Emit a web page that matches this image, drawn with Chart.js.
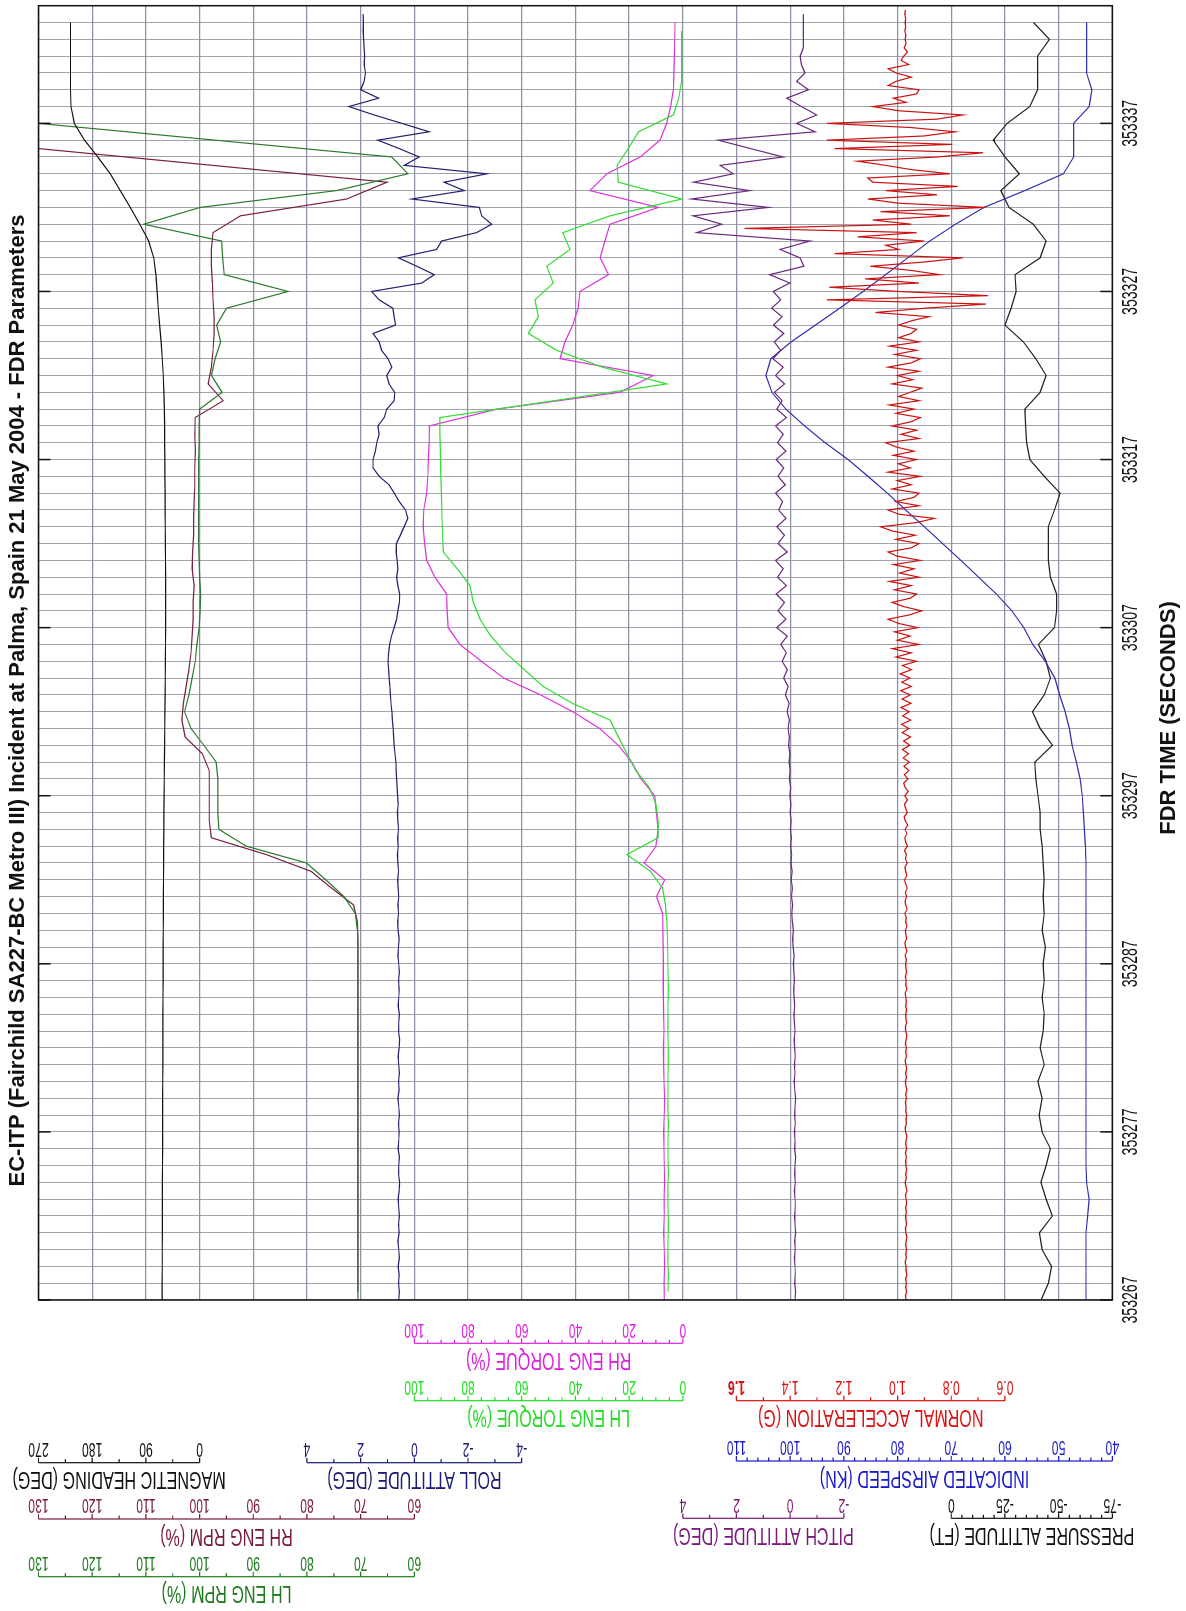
<!DOCTYPE html>
<html>
<head>
<meta charset="utf-8">
<title>EC-ITP FDR Parameters</title>
<script src="https://cdn.jsdelivr.net/npm/chart.js@4.4.1/dist/chart.umd.min.js"></script>
<style>
  html, body { margin: 0; padding: 0; background: #fff; overflow: hidden; }
  /* the chart is laid out landscape and turned a quarter turn, like the printed page */
  #page {
    position: absolute; left: 0; top: 0;
    width: 1611px; height: 1186px;
    transform-origin: 0 0;
    transform: translate(0, 1611px) rotate(-90deg);
  }
</style>
</head>
<body>
<div id="page"><canvas id="fdr" width="1611" height="1186"></canvas></div>
<script>
// FDR time axis
const T0 = 353267;
const T1 = 353344;
const timeLabels = [353267, 353277, 353287, 353297, 353307, 353317, 353327, 353337];

// 1 Hz, from T0 (deg)
const magHeading = [
  62.8, 62.8, 62.6, 62.6, 62.4, 62.4, 62.3, 62.2, 62.1, 62.0,
  61.9, 61.8, 61.8, 61.7, 61.6, 61.5, 61.5, 61.4, 61.3, 61.2,
  61.1, 61.0, 60.9, 60.8, 60.7, 60.5, 60.3, 60.1, 60.0, 59.8,
  59.5, 59.2, 58.9, 58.6, 58.4, 58.1, 57.8, 57.5, 57.3, 57.1,
  57.0, 57.0, 57.0, 57.0, 57.1, 57.3, 57.5, 57.7, 57.9, 58.1,
  58.3, 58.5, 58.6, 59.0, 59.8, 60.9, 62.6, 64.6, 67.0, 69.3,
  71.2, 73.1, 76.8, 85.3, 100.2, 116.2, 133.0, 149.9, 170.5, 193.0,
  209.9, 215.5, 216.4, 216.4, 216.4, 216.4, 216.4
];

// 1 Hz, from T0 (%), 130 = pinned at the top of the scale
const lhEngRpm = [
  70.5, 70.5, 70.5, 70.5, 70.5, 70.5, 70.5, 70.5, 70.5, 70.5,
  70.5, 70.5, 70.5, 70.5, 70.5, 70.5, 70.5, 70.5, 70.5, 70.5,
  70.5, 70.5, 70.6, 71.0, 73.1, 76.5, 80.1, 91.3, 96.4, 96.6,
  96.6, 96.6, 96.9, 99.2, 101.6, 102.8, 102.0, 101.4, 100.8, 100.5,
  100.1, 99.9, 99.8, 100.0, 100.1, 100.2, 100.2, 100.2, 100.2, 100.2,
  100.2, 100.1, 100.1, 100.0, 95.8, 97.8, 97.1, 96.1, 96.8, 95.0,
  83.5, 95.4, 95.7, 95.9, 110.4, 99.9, 74.5, 61.2, 64.2, null,
  130, 130, 130, 130, 130, 130, 130
];

// 1 Hz, from T0 + 0.5 (%)
const rhEngRpm = [
  70.5, 70.5, 70.5, 70.5, 70.5, 70.5, 70.5, 70.5, 70.5, 70.5,
  70.5, 70.5, 70.5, 70.5, 70.5, 70.5, 70.5, 70.5, 70.5, 70.5,
  70.5, 70.5, 70.6, 71.3, 75.4, 79.2, 87.6, 97.8, 98.2, 98.2,
  98.2, 98.2, 99.5, 102.7, 103.3, 103.0, 102.5, 102.0, 101.6, 101.4,
  101.2, 101.2, 101.0, 101.4, 101.3, 101.1, 101.1, 101.0, 100.9, 100.9,
  100.8, 100.9, 100.8, 95.6, 98.4, 97.8, 97.5, 97.3, 97.3, 97.5,
  97.6, 97.8, 97.8, 97.5, 92.4, 72.6, 65.1, null, 130, 130,
  130, 130, 130, 130, 130, 130
];

// 2 Hz, from T0 (deg)
const rollAtt = [
  0.58, 0.56, 0.59, 0.57, 0.60, 0.56, 0.58, 0.61, 0.57, 0.59,
  0.56, 0.58, 0.60, 0.57, 0.55, 0.59, 0.58, 0.56, 0.60, 0.58,
  0.57, 0.59, 0.56, 0.58, 0.61, 0.57, 0.59, 0.56, 0.58, 0.60,
  0.57, 0.55, 0.59, 0.58, 0.56, 0.60, 0.58, 0.57, 0.59, 0.56,
  0.58, 0.61, 0.59, 0.57, 0.60, 0.62, 0.59, 0.61, 0.58, 0.60,
  0.62, 0.59, 0.61, 0.63, 0.60, 0.62, 0.59, 0.61, 0.63, 0.60,
  0.62, 0.64, 0.66, 0.68, 0.69, 0.72, 0.75, 0.77, 0.79, 0.82,
  0.84, 0.87, 0.89, 0.91, 0.94, 0.96, 0.98, 0.96, 0.92, 0.85,
  0.75, 0.66, 0.61, 0.56, 0.55, 0.61, 0.66, 0.61, 0.64, 0.68,
  0.67, 0.52, 0.38, 0.24, 0.33, 0.56, 0.75, 0.94, 1.31, 1.54,
  1.54, 1.45, 1.40, 1.31, 1.36, 1.12, 1.03, 0.75, 0.73, 0.94,
  1.03, 0.84, 0.98, 1.22, 1.31, 1.54, 0.70, 0.75, 0.80, 1.31,
  1.59, -0.28, -0.74, -0.09, 0.59, -0.83, -1.02, -2.32, -2.88, -2.51,
  -2.42, 0.10, -1.86, -1.11, -2.70, 0.38, -0.18, 0.56, 1.36, -0.55,
  0.47, 1.50, 2.44, 1.33, 2.00, 1.87, 1.82, 1.87, 1.85, 1.87,
  1.89, 1.91, 1.90, 1.91
];

// 1 Hz, from T0 + 0.5 (%)
const lhEngTorque = [
  5.5, 5.4, 5.6, 5.5, 5.4, 5.5, 5.6, 5.4, 5.5, 5.5,
  5.4, 5.6, 5.5, 5.5, 5.4, 5.5, 5.6, 5.5, 5.4, 5.5,
  5.6, 5.7, 5.9, 6.5, 7.5, 12.0, 20.8, 9.2, 9.2, 10.0,
  12.5, 17.5, 20.8, 24.0, 27.1, 41.2, 52.0, 59.0, 66.0, 71.5,
  75.5, 78.0, 79.3, 84.0, 89.2, 89.5, 89.7, 89.8, 90.0, 90.2,
  90.3, 90.5, 90.5, 48.0, 6.0, 30.0, 47.0, 57.5, 53.8, 55.1,
  48.2, 50.7, 42.0, 44.7, 27.1, 0.4, 24.0, 24.5, 20.3, 16.5,
  3.5, 1.5, 0.4, 0.4, 0.4, 0.4
];

// 1 Hz, from T0 (%)
const rhEngTorque = [
  6.9, 7.0, 6.8, 6.9, 7.1, 6.9, 7.0, 6.8, 6.9, 7.0,
  7.1, 6.9, 6.8, 7.0, 7.1, 7.2, 7.0, 7.1, 7.2, 7.3,
  7.2, 7.3, 7.4, 7.5, 9.8, 6.7, 14.4, 10.0, 9.2, 9.8,
  10.5, 15.6, 19.0, 24.0, 31.0, 41.0, 53.0, 66.7, 75.0, 83.0,
  87.4, 87.8, 88.0, 92.3, 95.4, 96.2, 96.7, 96.5, 95.4, 95.0,
  94.8, 94.5, 94.4, 69.3, 23.4, 11.0, 45.7, 43.9, 41.0, 39.0,
  38.3, 27.7, 30.8, 29.0, 27.1, 9.1, 34.6, 28.3, 15.9, 8.5,
  6.0, 4.5, 3.5, 3.3, 3.1, 3.0, 2.9
];

// 2 Hz, from T0 (deg)
const pitchAtt = [
  -0.18, -0.20, -0.17, -0.19, -0.18, -0.16, -0.19, -0.17, -0.20, -0.18,
  -0.17, -0.19, -0.18, -0.16, -0.19, -0.17, -0.18, -0.20, -0.17, -0.18,
  -0.16, -0.19, -0.17, -0.18, -0.20, -0.17, -0.15, -0.18, -0.16, -0.19,
  -0.17, -0.15, -0.18, -0.16, -0.14, -0.17, -0.15, -0.13, -0.16, -0.14,
  -0.12, -0.15, -0.11, -0.09, -0.12, -0.08, -0.06, -0.09, -0.05, -0.08,
  -0.04, -0.07, -0.03, -0.06, -0.02, -0.05, -0.01, -0.04, 0.00, -0.03,
  0.01, -0.02, 0.03, 0.00, 0.04, 0.01, 0.06, 0.03, 0.08, 0.03,
  0.11, 0.04, 0.18, 0.08, 0.24, 0.11, 0.30, 0.14, 0.35, 0.11,
  0.50, 0.16, 0.45, 0.21, 0.52, 0.14, 0.47, 0.26, 0.54, 0.11,
  0.45, 0.21, 0.50, 0.16, 0.43, 0.28, 0.54, 0.18, 0.45, 0.24,
  0.52, 0.16, 0.47, 0.26, 0.54, 0.14, 0.50, 0.30, 0.59, 0.21,
  0.54, 0.26, 0.64, 0.35, 0.59, 0.24, 0.62, 0.30, 0.69, 0.35,
  0.63, 0.01, 0.76, -0.51, -0.37, 0.38, -0.74, 3.48, 2.55, 3.62,
  0.81, 3.67, 1.50, 3.60, 2.12, 2.61, 0.26, 1.47, 2.68, -0.93,
  -0.24, -0.99, -0.42, 0.13, -0.68, -0.24, -0.55, -0.42, -0.37, -0.49,
  -0.49, -0.49, -0.49, -0.49
];

// 4 Hz, from T0 (g)
const normalAccel = [
  0.968, 0.971, 0.966, 0.970, 0.967, 0.970, 0.965, 0.969,
  0.968, 0.972, 0.967, 0.970, 0.966, 0.970, 0.968, 0.965,
  0.969, 0.971, 0.966, 0.969, 0.970, 0.967, 0.970, 0.966,
  0.968, 0.971, 0.965, 0.969, 0.972, 0.967, 0.970, 0.966,
  0.969, 0.970, 0.967, 0.971, 0.966, 0.970, 0.968, 0.965,
  0.970, 0.972, 0.967, 0.969, 0.966, 0.970, 0.968, 0.971,
  0.967, 0.970, 0.965, 0.969, 0.971, 0.967, 0.970, 0.966,
  0.969, 0.972, 0.966, 0.970, 0.967, 0.971, 0.968, 0.965,
  0.970, 0.971, 0.966, 0.969, 0.970, 0.966, 0.970, 0.967,
  0.969, 0.972, 0.965, 0.970, 0.968, 0.971, 0.966, 0.969,
  0.970, 0.967, 0.972, 0.965, 0.970, 0.973, 0.966, 0.969,
  0.971, 0.965, 0.970, 0.967, 0.973, 0.964, 0.970, 0.972,
  0.966, 0.971, 0.964, 0.970, 0.974, 0.965, 0.970, 0.973,
  0.964, 0.971, 0.967, 0.974, 0.963, 0.970, 0.973, 0.965,
  0.972, 0.962, 0.971, 0.975, 0.964, 0.970, 0.974, 0.963,
  0.973, 0.960, 0.972, 0.977, 0.961, 0.975, 0.958, 0.976,
  0.956, 0.979, 0.959, 0.982, 0.954, 0.977, 0.952, 0.983,
  0.958, 0.985, 0.951, 0.981, 0.956, 0.987, 0.950, 0.983,
  0.953, 0.988, 0.949, 0.984, 0.954, 0.990, 0.948, 0.982,
  0.929, 1.006, 0.949, 1.020, 0.920, 1.001, 0.953, 1.011,
  0.925, 0.996, 1.035, 0.958, 0.910, 0.977, 1.020, 0.953,
  0.929, 1.011, 0.949, 1.030, 0.920, 0.992, 0.939, 1.015,
  0.915, 1.001, 1.035, 0.949, 0.920, 1.006, 0.934, 1.020,
  1.063, 0.929, 0.863, 0.996, 1.035, 0.920, 1.006, 0.939,
  0.920, 1.020, 0.949, 1.001, 0.915, 1.035, 0.953, 0.996,
  0.929, 1.015, 0.939, 1.006, 1.044, 0.920, 0.987, 0.929,
  1.020, 0.949, 0.915, 1.006, 0.939, 1.030, 0.920, 0.996,
  0.953, 0.910, 1.020, 0.944, 1.001, 0.920, 1.035, 0.949,
  0.915, 1.011, 0.929, 1.030, 0.920, 0.996, 0.949, 0.929,
  0.996, 0.949, 0.882, 1.082, 0.901, 0.671, 1.264, 0.662,
  0.996, 1.254, 0.920, 1.121, 0.843, 0.949, 1.101, 0.901,
  0.757, 1.235, 0.996, 1.044, 0.901, 1.149, 0.929, 1.570,
  0.949, 1.092, 0.805, 1.063, 0.671, 0.996, 1.111, 0.853,
  1.044, 0.776, 1.092, 1.111, 0.805, 0.949, 1.044, 1.149,
  0.853, 0.681, 1.235, 0.796, 1.264, 0.901, 0.786, 0.949,
  1.264, 0.853, 0.757, 0.996, 1.092, 0.968, 1.015, 0.929,
  0.920, 1.035, 1.006, 0.949, 1.006, 1.035, 0.958, 0.987,
  0.977, 0.963, 0.975, 0.968, 0.972, 0.969, 0.973, 0.970,
  0.972, 0.970, 0.973, 0.971
];

// 1 Hz, from T0 (kn)
const indAirspeed = [
  44.9, 44.9, 44.9, 44.9, 44.9, 44.6, 44.3, 44.8, 44.9, 44.9,
  44.9, 44.9, 44.9, 44.9, 44.9, 44.9, 44.9, 44.9, 44.9, 44.9,
  44.9, 44.9, 44.9, 44.9, 44.9, 44.9, 44.9, 45.0, 45.2, 45.4,
  45.6, 46.0, 46.7, 47.5, 48.0, 48.8, 49.8, 50.7, 52.5, 54.8,
  56.5, 58.7, 61.6, 64.9, 68.2, 71.6, 75.0, 78.5, 81.9, 85.5,
  89.2, 93.5, 97.3, 100.8, 103.4, 104.5, 103.6, 99.8, 95.3, 90.8,
  86.4, 82.2, 78.1, 74.0, 69.2, 63.9, 56.3, 49.1, 47.2, 47.2,
  47.2, 44.3, 43.8, 44.8, 44.8, 44.8, 44.8
];

// 1 Hz, from T0 (ft)
const pressAlt = [
  -41.8, -45.2, -46.7, -42.3, -41.1, -47.1, -44.2, -41.8, -44.2, -46.2,
  -42.3, -40.9, -42.3, -40.4, -43.3, -41.4, -42.8, -43.3, -42.3, -43.3,
  -42.8, -43.8, -42.3, -43.3, -42.8, -43.3, -42.8, -42.3, -41.4, -41.4,
  -40.4, -39.4, -38.9, -47.1, -41.4, -37.8, -43.3, -46.2, -44.2, -40.6,
  -48.1, -49.1, -49.1, -46.2, -45.2, -45.2, -45.2, -48.1, -50.7, -43.3,
  -36.6, -35.1, -34.6, -34.3, -41.4, -44.2, -39.4, -33.6, -25.0, -27.9,
  -30.2, -29.7, -41.4, -44.2, -38.2, -26.9, -23.1, -31.7, -25.0, -19.6,
  -26.0, -36.6, -40.2, -40.2, -40.2, -45.7, -38.3
];

// the plot has 20 grid divisions across; each parameter scale is
// given by its value on the upper edge and its units per division
const DIVS = 20;
const FONT = '"Liberation Sans", Arial, sans-serif';

function gridAxis(topValue, perDiv) {
  return { type: 'linear', display: false, min: topValue - DIVS * perDiv, max: topValue };
}

function pts(values, start, step) {
  return values.map((v, i) => ({ x: T0 + start + i * step, y: v }));
}

function line(label, values, start, step, axis, color) {
  return {
    label: label,
    data: pts(values, start, step),
    yAxisID: axis,
    borderColor: color,
    borderWidth: 1.2,
    pointRadius: 0,
    tension: 0,
    spanGaps: true
  };
}

// scale keys drawn beside the plot
const legendScales = [
  { axis: 'yRpm', title: 'LH ENG RPM (%)', color: '#1f7a1f', lineX: 34.3, from: 60, to: 130, minor: 5, major: 10, dec: 0 },
  { axis: 'yRpm', title: 'RH ENG RPM (%)', color: '#7a1a3c', lineX: 92, from: 60, to: 130, minor: 5, major: 10, dec: 0 },
  { axis: 'yHdg', title: 'MAGNETIC HEADING (DEG)', color: '#111111', lineX: 148.3, from: 0, to: 270, minor: 45, major: 90, dec: 0 },
  { axis: 'yRoll', title: 'ROLL ATTITUDE (DEG)', color: '#1c1c78', lineX: 148.3, from: -4, to: 4, minor: 1, major: 2, dec: 0 },
  { axis: 'yTq', title: 'LH ENG TORQUE (%)', color: '#22dd22', lineX: 210.3, from: 0, to: 100, minor: 5, major: 20, dec: 0 },
  { axis: 'yTq', title: 'RH ENG TORQUE (%)', color: '#dd22dd', lineX: 267.7, from: 0, to: 100, minor: 5, major: 20, dec: 0 },
  { axis: 'yNz', title: 'NORMAL ACCELERATION (G)', color: '#dd1111', lineX: 210.3, from: 0.6, to: 1.6, minor: 0.1, major: 0.2, dec: 1, boldLast: true },
  { axis: 'yIas', title: 'INDICATED AIRSPEED (KN)', color: '#1a1acc', lineX: 150, from: 40, to: 110, minor: 2, major: 10, dec: 0 },
  { axis: 'yPitch', title: 'PITCH ATTITUDE (DEG)', color: '#7a1a7a', lineX: 92.7, from: -2, to: 4, minor: 1, major: 2, dec: 0 },
  { axis: 'yPalt', title: 'PRESSURE ALTITUDE (FT)', color: '#111111', lineX: 92.7, from: -75, to: 0, minor: 5, major: 25, dec: 0 }
];

function drawText(ctx, str, x, y, font, color, sx, vertical) {
  ctx.save();
  ctx.translate(x, y);
  if (vertical) ctx.rotate(-Math.PI / 2);
  ctx.scale(sx, 1);
  ctx.font = font;
  ctx.fillStyle = color;
  ctx.textAlign = 'center';
  ctx.textBaseline = 'middle';
  ctx.fillText(str, 0, 0);
  ctx.restore();
}

function fitScale(ctx, str, font, target) {
  ctx.save();
  ctx.font = font;
  const w = ctx.measureText(str).width;
  ctx.restore();
  return Math.min(1, target / w);
}

const fdrDecor = {
  id: 'fdrDecor',
  afterDraw(chart) {
    const ctx = chart.ctx;
    const a = chart.chartArea;
    const xs = chart.scales.x;

    // frame
    ctx.save();
    ctx.strokeStyle = '#111';
    ctx.lineWidth = 1.5;
    ctx.strokeRect(a.left, a.top, a.right - a.left, a.bottom - a.top);

    // 10 s tick marks and labels
    const numFont = '22px ' + FONT;
    const numScale = fitScale(ctx, '353337', numFont, 47);
    timeLabels.forEach(t => {
      const px = xs.getPixelForValue(t);
      ctx.beginPath();
      ctx.moveTo(px, a.top); ctx.lineTo(px, a.top + 12);
      ctx.moveTo(px, a.bottom); ctx.lineTo(px, a.bottom - 12);
      ctx.stroke();
      drawText(ctx, String(t), px, a.bottom + 19, numFont, '#111', numScale, false);
    });
    ctx.restore();

    // scale keys: widths taken from the "130" label and the LH ENG RPM title
    const labFont = '20px ' + FONT;
    const labScale = fitScale(ctx, '130', labFont, 20.5);
    const keyFont = '23px ' + FONT;
    const keyScale = fitScale(ctx, 'LH ENG RPM (%)', keyFont, 130);
    legendScales.forEach(ls => {
      const sc = chart.scales[ls.axis];
      const y1 = sc.getPixelForValue(ls.from);
      const y2 = sc.getPixelForValue(ls.to);
      ctx.save();
      ctx.strokeStyle = ls.color;
      ctx.lineWidth = 1.2;
      ctx.beginPath();
      ctx.moveTo(ls.lineX, y1); ctx.lineTo(ls.lineX, y2);
      const n = Math.round((ls.to - ls.from) / ls.minor);
      for (let i = 0; i <= n; i++) {
        const v = ls.from + i * ls.minor;
        const py = sc.getPixelForValue(v);
        const isMajor = Math.abs(v / ls.major - Math.round(v / ls.major)) < 1e-6;
        ctx.moveTo(ls.lineX, py);
        ctx.lineTo(ls.lineX + (isMajor ? 5 : 3.5), py);
      }
      ctx.stroke();
      ctx.restore();
      const m = Math.round((ls.to - ls.from) / ls.major);
      for (let i = 0; i <= m; i++) {
        const v = ls.from + i * ls.major;
        const py = sc.getPixelForValue(v);
        const bold = ls.boldLast && i === m;
        drawText(ctx, v.toFixed(ls.dec), ls.lineX + 14, py,
          (bold ? 'bold ' : '') + labFont, ls.color, labScale, true);
      }
      drawText(ctx, ls.title, ls.lineX - 16, (y1 + y2) / 2, keyFont, ls.color, keyScale, true);
    });

    // page title and time axis title
    const tFont = 'bold 22px ' + FONT;
    const title = 'EC-ITP (Fairchild SA227-BC Metro III) Incident at Palma, Spain 21 May 2004 - FDR Parameters';
    drawText(ctx, title, 910.5, 18, tFont, '#111', fitScale(ctx, title, tFont, 1123), false);
    const at = 'FDR TIME (SECONDS)';
    drawText(ctx, at, 893, 1169, tFont, '#111', fitScale(ctx, at, tFont, 234), false);
  }
};

new Chart(document.getElementById('fdr').getContext('2d'), {
  type: 'line',
  data: {
    datasets: [
      line('Magnetic Heading', magHeading, 0, 1, 'yHdg', '#111111'),
      line('LH Eng RPM', lhEngRpm, 0, 1, 'yRpm', '#2e7b2e'),
      line('RH Eng RPM', rhEngRpm, 0.5, 1, 'yRpm', '#7a2040'),
      line('Roll Attitude', rollAtt, 0, 0.5, 'yRoll', '#23236e'),
      line('LH Eng Torque', lhEngTorque, 0.5, 1, 'yTq', '#33dd33'),
      line('RH Eng Torque', rhEngTorque, 0, 1, 'yTq', '#dd33dd'),
      line('Pitch Attitude', pitchAtt, 0, 0.5, 'yPitch', '#6a2a80'),
      line('Normal Acceleration', normalAccel, 0, 0.25, 'yNz', '#cc1111'),
      line('Indicated Airspeed', indAirspeed, 0, 1, 'yIas', '#3030b0'),
      line('Pressure Altitude', pressAlt, 0, 1, 'yPalt', '#222222')
    ]
  },
  options: {
    responsive: false,
    animation: false,
    devicePixelRatio: 1,
    layout: { padding: { left: 311, right: 5.7, top: 38.5, bottom: 73.7 } },
    plugins: {
      legend: { display: false },
      tooltip: { enabled: false },
      title: { display: false }
    },
    scales: {
      x: {
        type: 'linear',
        min: T0,
        max: T1,
        ticks: { stepSize: 1, display: false, maxTicksLimit: 200 },
        grid: { color: '#a4a4b0', lineWidth: 1, drawTicks: false },
        border: { display: false }
      },
      yGrid: {
        type: 'linear',
        position: 'left',
        min: 0,
        max: DIVS,
        ticks: { stepSize: 1, display: false },
        grid: { color: '#8e8ea4', lineWidth: 1.2, drawTicks: false },
        border: { display: false }
      },
      yRpm: gridAxis(130, 10),
      yHdg: gridAxis(270, 90),
      yRoll: gridAxis(14, 2),
      yTq: gridAxis(240, 20),
      yNz: gridAxis(4.2, 0.2),
      yIas: gridAxis(240, 10),
      yPitch: gridAxis(28, 2),
      yPalt: gridAxis(425, 25)
    }
  },
  plugins: [fdrDecor]
});
</script>
</body>
</html>
